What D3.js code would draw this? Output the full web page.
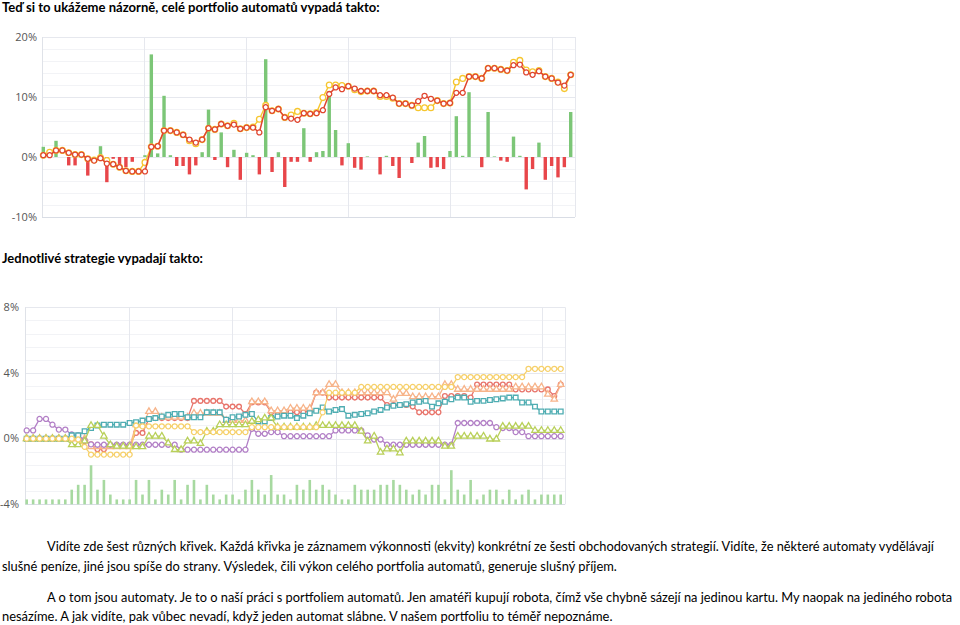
<!DOCTYPE html>
<html>
<head>
<meta charset="utf-8">
<script src="https://cdn.jsdelivr.net/npm/d3@7"></script>
<style>
  html, body { margin: 0; padding: 0; background: #fff; }
  svg { display: block; }
  .txt { font-family: Lato, 'Open Sans', sans-serif; fill: #000; }
  .tick-label { font-family: 'Open Sans', sans-serif; font-size: 11px; fill: #555; }
</style>
</head>
<body>
<script>
// ---- portfolio chart (top) ----
const portfolioReal = [
  0.3,0.3,1.1,1.1,0.7,0.4,0.4,-0.3,-0.6,-0.2,
  -1.1,-1.2,-1.7,-2.3,-2.4,-2.4,-2.4,1.7,1.8,4.4,
  4.4,4.1,3.7,2.9,2.4,2.9,4.8,4.6,5.5,5.2,
  5.4,4.7,4.9,4.9,4.1,8.3,7.7,8.0,6.6,6.4,
  6.2,7.3,7.2,7.3,7.8,10.5,11.6,11.3,11.8,11.4,
  11.0,11.0,11.0,10.3,10.3,9.9,8.9,8.9,8.6,9.3,
  10.2,9.7,9.4,8.9,9.0,10.7,10.7,13.4,13.4,13.1,
  14.8,14.8,14.6,14.4,15.3,15.4,14.1,13.7,14.3,13.4,
  13.1,12.4,11.9,13.7
];
const portfolioBacktest = [
  0.3,0.8,1.1,1.1,0.7,0.4,0.4,-0.3,-0.5,-0.1,
  -0.6,-1.2,-1.7,-2.3,-2.4,-2.4,-0.9,1.7,1.8,4.4,
  4.4,4.1,3.7,2.7,2.2,2.9,4.8,4.6,5.5,5.2,
  5.6,4.7,4.9,5.0,6.3,8.6,7.7,8.0,6.6,7.0,
  7.6,7.3,7.2,7.4,9.9,12.0,12.0,11.9,11.8,11.2,
  10.9,11.0,11.0,10.1,10.1,9.8,8.9,8.9,8.6,8.2,
  8.2,8.2,9.4,8.9,9.0,12.5,13.1,13.4,13.4,13.1,
  14.8,14.8,14.6,14.4,15.8,16.1,14.5,14.2,14.4,13.4,
  13.1,12.5,11.4,13.7
];
const portfolioChange = [
  1.7,0,2.7,0,-1.4,-1.4,0,-3.1,0,1.8,
  -4.2,-0.3,-1.7,-1.7,-0.8,0,0.3,17.1,0.6,10.2,
  0.3,-1.5,-1.5,-2.9,-1.4,0.8,7.9,-0.5,4.1,-1.7,
  1.2,-3.8,0.7,0.3,-2.9,16.3,-2.5,0.8,-5.0,-0.8,
  -0.8,4.8,-0.8,0.8,1.0,11.0,4.5,-1.4,2.3,-1.8,
  -2.1,0.1,0,-2.9,0.2,-1.5,-3.5,0,-1.0,2.4,
  3.5,-1.8,-1.7,-2.0,1.0,6.8,0.2,10.8,0,-1.7,
  7.5,0.1,-0.6,-0.8,3.4,0.2,-5.4,-2.0,2.4,-3.8,
  -1.5,-3.4,-1.7,7.5
];
const topTicks = [-10, 0, 10, 20];
const topTickLabels = ['-10%', '0%', '10%', '20%'];

// ---- strategies chart (bottom) ----
const stratPurple = [
  0.5,0.5,1.2,1.2,0.85,0.55,0.55,0.25,0.2,-0.1,
  -0.35,-0.37,-0.37,-0.37,-0.37,-0.37,-0.37,-0.37,-0.37,-0.37,
  -0.37,-0.37,-0.37,-0.37,-0.67,-0.67,-0.67,-0.67,-0.67,-0.67,
  -0.67,-0.67,-0.67,-0.67,-0.67,0.6,0.3,0.3,0.4,0.4,
  0.15,0.15,0.15,0.15,0.15,0.15,0.15,0.15,0.5,0.5,
  0.5,0.5,0.5,0.2,-0.05,-0.05,-0.37,-0.37,-0.37,-0.37,
  -0.37,-0.37,-0.37,-0.37,-0.37,-0.37,-0.37,0.95,0.95,0.95,
  0.95,0.95,0.95,0.7,0.65,0.65,0.4,0.4,0.15,0.15,
  0.15,0.15,0.15,0.15
];
const stratTeal = [
  0,0,0,0,0,0,0,0.2,0.2,0.45,
  0.65,0.8,0.85,0.85,0.85,0.85,0.95,1.0,1.1,1.2,
  1.25,1.35,1.45,1.5,1.5,1.3,1.3,1.3,1.6,1.6,
  1.6,1.15,1.3,1.35,1.45,1.5,1.05,1.05,1.25,1.35,
  1.4,1.4,1.25,1.4,1.55,1.7,1.9,1.65,1.75,1.8,
  1.4,1.45,1.5,1.55,1.65,1.75,1.9,2.0,2.05,2.1,
  2.2,2.25,2.3,1.95,2.15,2.25,2.4,2.5,2.5,2.25,
  2.3,2.3,2.35,2.4,2.45,2.5,2.5,2.2,2.2,1.95,
  1.65,1.65,1.65,1.65
];
const stratSalmon = [
  0,0,0,0,0,0,0,0,0,-0.15,
  -0.35,-0.65,-0.65,-0.4,-0.4,-0.4,-0.4,0.35,0.35,1.2,
  1.25,1.25,1.25,1.25,1.25,1.25,2.3,2.3,2.3,2.3,
  2.3,1.95,1.95,1.95,1.5,2.2,2.2,2.2,1.6,1.6,
  1.6,1.6,1.6,1.6,1.7,2.8,2.8,2.5,2.5,2.5,
  2.5,2.5,2.5,2.5,2.5,2.5,2.05,2.05,2.05,2.05,
  1.95,1.6,1.6,1.6,1.6,2.6,2.6,2.6,2.6,2.5,
  3.3,3.3,3.3,3.3,3.3,3.3,3.0,3.0,3.0,3.0,
  3.0,3.0,2.6,3.3
];
const stratPeach = [
  0,0,0,0,0,0,0,0,0,0,
  -0.5,-0.5,-0.5,-0.5,-0.5,-0.5,-0.5,0.85,0.85,1.65,
  1.65,1.3,1.3,1.3,1.3,1.3,1.55,1.55,1.55,1.55,
  1.55,1.1,1.1,1.1,1.1,2.25,2.25,2.25,1.7,1.7,
  1.7,1.85,1.85,1.85,1.85,2.8,2.8,3.3,3.3,2.8,
  2.8,2.8,2.8,2.8,2.8,2.8,2.8,2.4,2.75,2.75,
  2.55,2.55,2.55,2.55,2.55,3.3,3.3,3.0,3.0,3.0,
  3.0,3.0,3.0,3.0,3.0,3.0,3.15,3.15,3.15,3.15,
  3.15,2.7,2.4,3.3
];
const stratYellow = [
  0,0,0,0,0,0,0,0,-0.05,-0.5,
  -0.97,-0.97,-0.97,-0.97,-0.97,-0.97,-0.97,0.8,0.75,0.75,
  0.75,0.75,0.75,0.75,0.75,0.75,0.4,0.4,0.4,0.4,
  0.4,0.4,0.4,0.4,0.4,0.7,0.7,0.7,0.7,0.7,
  0.7,0.7,0.7,0.7,0.7,0.7,1.6,2.8,2.8,2.8,
  2.8,2.8,3.15,3.15,3.15,3.15,3.15,3.15,3.15,3.15,
  3.15,3.15,3.15,3.15,3.15,3.15,3.15,3.75,3.75,3.75,
  3.75,3.75,3.75,3.75,3.75,3.75,3.75,3.75,4.25,4.25,
  4.25,4.25,4.25,4.25
];
const stratLime = [
  0,0,0,0,0,0,0,-0.37,-0.37,-0.15,
  0.8,0.8,0.15,-0.37,-0.47,-0.47,-0.47,-0.5,-0.5,0.15,
  0.15,0.15,-0.27,-0.67,-0.67,-0.15,-0.15,-0.3,0.45,0.45,
  0.85,0.85,0.85,0.85,0.85,1.05,1.15,1.25,1.25,0.7,
  0.7,0.7,0.7,0.7,0.7,0.8,0.8,0.8,0.8,0.8,
  0.8,0.8,0.45,-0.15,0.15,-0.83,-0.63,-0.63,-0.87,-0.15,
  -0.15,-0.15,-0.15,-0.15,-0.15,-0.47,-0.47,0.15,0.15,0.15,
  0.15,0.15,-0.03,-0.03,0.75,0.75,0.75,0.75,0.75,0.5,
  0.5,0.5,0.5,0.5
];
const tradeCounts = [
  1,1,1,1,1,1,1,3,4,4,
  8,3,5,2,1,1,1,5,2,5,
  1,3,2,5,1,4,5,1,4,2,
  1,2,2,1,3,5,3,2,6,2,
  2,1,4,3,5,3,4,3,2,1,
  1,4,3,3,3,4,4,5,4,3,
  2,3,2,4,4,1,7,3,2,5,
  1,2,3,3,1,3,1,2,3,1,
  2,2,2,2
];
const bottomTicks = [-4, 0, 4, 8];
const bottomTickLabels = ['-4%', '0%', '4%', '8%'];

// vertical grid lines sit at these point positions (both charts)
const xGridAt = [15.9, 31.95, 48, 64.05, 80.1];

// ---- page text ----
const textLines = [
  { t: 'Teď si to ukážeme názorně, celé portfolio automatů vypadá takto:', x: 2, y: 12, w: 378, bold: true },
  { t: 'Jednotlivé strategie vypadají takto:', x: 2, y: 263, w: 201, bold: true },
  { t: 'Vidíte zde šest různých křivek. Každá křivka je záznamem výkonnosti (ekvity) konkrétní ze šesti obchodovaných strategií. Vidíte, že některé automaty vydělávají', x: 47, y: 551, w: 888 },
  { t: 'slušné peníze, jiné jsou spíše do strany. Výsledek, čili výkon celého portfolia automatů, generuje slušný příjem.', x: 2, y: 571, w: 615 },
  { t: 'A o tom jsou automaty. Je to o naší práci s portfoliem automatů. Jen amatéři kupují robota, čímž vše chybně sázejí na jedinou kartu. My naopak na jediného robota', x: 47, y: 602, w: 906 },
  { t: 'nesázíme. A jak vidíte, pak vůbec nevadí, když jeden automat slábne. V našem portfoliu to téměř nepoznáme.', x: 2, y: 621, w: 611 }
];

const svg = d3.select('body').append('svg')
  .attr('width', 960).attr('height', 625);

// size each line so its natural width fits the width seen in the picture
svg.append('g').selectAll('text').data(textLines).join('text')
  .attr('class', 'txt')
  .attr('x', d => d.x).attr('y', d => d.y)
  .attr('font-weight', d => d.bold ? 700 : 400)
  .attr('font-size', 14)
  .text(d => d.t)
  .each(function(d) {
    const natural = this.getComputedTextLength();
    d3.select(this).attr('font-size', (14 * d.w / natural).toFixed(2));
  });

// draws frame, grid and tick labels, returns the scales
function frame(g, box, yDomain, ticks, labels, minorStep, labelX, n) {
  const x = d3.scaleLinear().domain([0, n - 1]).range([box.first, box.last]);
  const y = d3.scaleLinear().domain(yDomain).range([box.bottom, box.top]);

  // minor horizontal lines
  g.append('g').selectAll('line')
    .data(d3.range(yDomain[0], yDomain[1] + 0.001, minorStep).filter(v => !ticks.some(t => Math.abs(t - v) < 1e-6)))
    .join('line')
    .attr('x1', box.left).attr('x2', box.right)
    .attr('y1', d => Math.round(y(d)) + 0.5).attr('y2', d => Math.round(y(d)) + 0.5)
    .attr('stroke', '#f2f3f6');

  // major horizontal lines
  g.append('g').selectAll('line').data(ticks).join('line')
    .attr('x1', box.left).attr('x2', box.right)
    .attr('y1', d => Math.round(y(d)) + 0.5).attr('y2', d => Math.round(y(d)) + 0.5)
    .attr('stroke', d => d === yDomain[0] ? '#d9dde5' : '#e6e8ee');

  // vertical grid
  g.append('g').selectAll('line').data(xGridAt).join('line')
    .attr('x1', d => Math.round(x(d)) + 0.5).attr('x2', d => Math.round(x(d)) + 0.5)
    .attr('y1', box.top).attr('y2', box.bottom)
    .attr('stroke', '#e6e8ee');

  // left and right edges
  g.append('line').attr('x1', box.left + 0.5).attr('x2', box.left + 0.5)
    .attr('y1', box.top).attr('y2', box.bottom).attr('stroke', '#dfe2e8');
  g.append('line').attr('x1', box.right + 0.5).attr('x2', box.right + 0.5)
    .attr('y1', box.top).attr('y2', box.bottom).attr('stroke', '#e6e8ee');

  g.append('g').selectAll('text').data(ticks).join('text')
    .attr('class', 'tick-label')
    .attr('x', labelX).attr('y', d => y(d)).attr('dy', '0.35em')
    .attr('text-anchor', 'end')
    .text((d, i) => labels[i]);

  return { x, y };
}

function series(g, x, y, values, color, symbolType, size, width) {
  const line = d3.line().x((d, i) => x(i)).y(d => y(d));
  g.append('path').datum(values)
    .attr('d', line).attr('fill', 'none')
    .attr('stroke', color).attr('stroke-width', width);
  g.append('g').selectAll('path').data(values).join('path')
    .attr('transform', (d, i) => `translate(${x(i)},${y(d)})`)
    .attr('d', d3.symbol().type(symbolType).size(size))
    .attr('fill', '#fff').attr('stroke', color).attr('stroke-width', 1.3);
}

// ---- top chart ----
const topBox = { left: 42, right: 575, first: 43.3, last: 570.7, top: 37, bottom: 217 };
const gTop = svg.append('g');
const sTop = frame(gTop, topBox, [-10, 20], topTicks, topTickLabels, 2, 37, portfolioReal.length);

gTop.append('g').selectAll('rect').data(portfolioChange).join('rect')
  .attr('x', (d, i) => sTop.x(i) - 1.7)
  .attr('width', 3.4)
  .attr('y', d => sTop.y(Math.max(0, d)))
  .attr('height', d => Math.abs(sTop.y(d) - sTop.y(0)))
  .attr('fill', d => d >= 0 ? '#7cc677' : '#e8464a');

series(gTop, sTop.x, sTop.y, portfolioBacktest, '#f6c62e', d3.symbolCircle, 26, 1.4);
series(gTop, sTop.x, sTop.y, portfolioReal, '#e0452f', d3.symbolCircle, 20, 1.5);

// ---- bottom chart ----
const botBox = { left: 25, right: 565, first: 26.7, last: 560.7, top: 307.3, bottom: 504.3 };
const gBot = svg.append('g');
const sBot = frame(gBot, botBox, [-4, 8], bottomTicks, bottomTickLabels, 0.8, 19, stratPurple.length);

const yCount = d3.scaleLinear().domain([0, 8]).range([sBot.y(-4), sBot.y(-4) - 39]);
gBot.append('g').selectAll('rect').data(tradeCounts).join('rect')
  .attr('x', (d, i) => sBot.x(i) - 1.3)
  .attr('width', 2.6)
  .attr('y', d => yCount(d))
  .attr('height', d => yCount(0) - yCount(d))
  .attr('fill', '#a7d9a0');

series(gBot, sBot.x, sBot.y, stratSalmon, '#e8756c', d3.symbolCircle, 18, 1.3);
series(gBot, sBot.x, sBot.y, stratPeach, '#f7b48a', d3.symbolTriangle, 18, 1.3);
series(gBot, sBot.x, sBot.y, stratPurple, '#b27fc6', d3.symbolCircle, 20, 1.3);
series(gBot, sBot.x, sBot.y, stratTeal, '#4fadb2', d3.symbolSquare, 22, 1.3);
series(gBot, sBot.x, sBot.y, stratLime, '#b9d05a', d3.symbolTriangle, 18, 1.3);
series(gBot, sBot.x, sBot.y, stratYellow, '#f6d06a', d3.symbolCircle, 20, 1.3);
</script>
</body>
</html>
